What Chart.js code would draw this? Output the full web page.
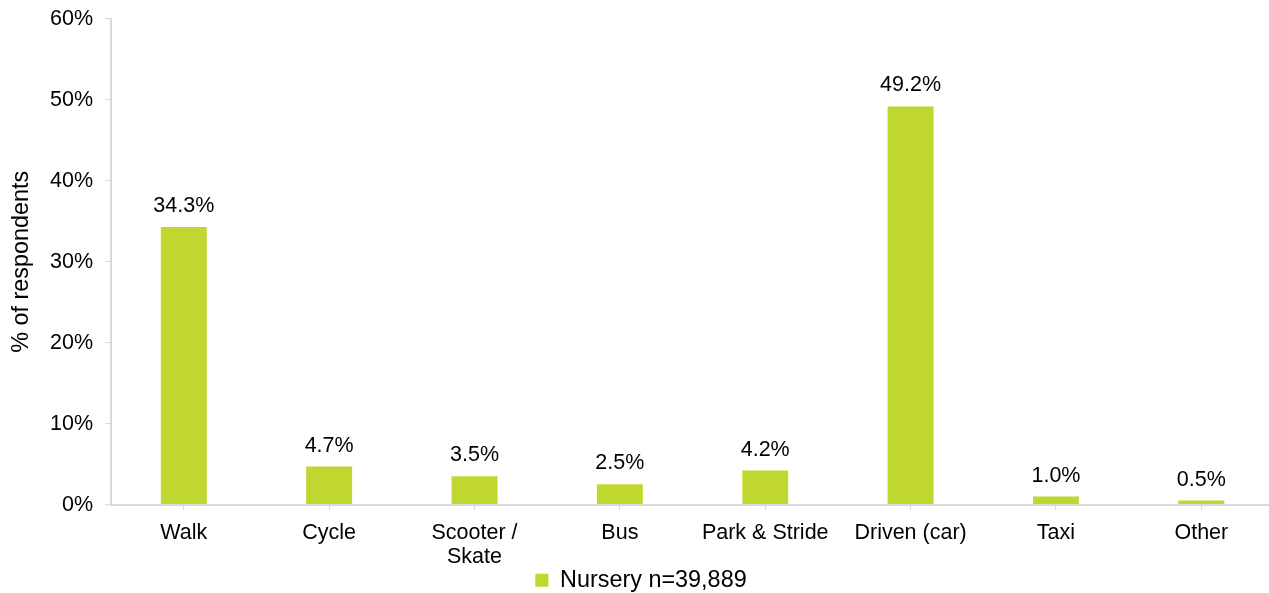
<!DOCTYPE html>
<html>
<head>
<meta charset="utf-8">
<script src="https://cdn.jsdelivr.net/npm/chart.js@4.4.0/dist/chart.umd.min.js"></script>
<style>
  html, body { margin: 0; padding: 0; background: #fff; overflow: hidden; }
  #wrap { width: 1274px; height: 593px; }
</style>
</head>
<body>
<div id="wrap"><canvas id="chart"></canvas></div>
<script>
const categories = ['Walk', 'Cycle', ['Scooter /', 'Skate'], 'Bus', 'Park & Stride', 'Driven (car)', 'Taxi', 'Other'];
const nurseryValues = [34.3, 4.7, 3.5, 2.5, 4.2, 49.2, 1.0, 0.5];
const seriesLabel = 'Nursery n=39,889';
const yTicks = [0, 10, 20, 30, 40, 50, 60];

const barColor = '#C0D72F';
const axisColor = '#D9D9D9';
const fontFamily = '"Liberation Sans", Arial, sans-serif';

// values written above each bar
const valueLabels = {
    id: 'valueLabels',
    afterDatasetsDraw(chart) {
        const ctx = chart.ctx;
        ctx.save();
        ctx.font = '21.5px ' + fontFamily;
        ctx.fillStyle = '#000';
        ctx.textAlign = 'center';
        ctx.textBaseline = 'alphabetic';
        chart.getDatasetMeta(0).data.forEach((bar, i) => {
            ctx.fillText(nurseryValues[i].toFixed(1) + '%', bar.x, bar.y - 15);
        });
        ctx.restore();
    }
};

new Chart(document.querySelector('#chart').getContext('2d'), {
    type: 'bar',
    data: {
        labels: categories,
        datasets: [{
            label: seriesLabel,
            data: nurseryValues,
            backgroundColor: barColor,
            borderWidth: 0,
            barPercentage: 1,
            categoryPercentage: 0.316
        }]
    },
    options: {
        responsive: true,
        maintainAspectRatio: false,
        animation: false,
        layout: { padding: { top: 1, left: 8, right: 0, bottom: -9 } },
        plugins: {
            tooltip: { enabled: false },
            legend: {
                position: 'bottom',
                labels: {
                    color: '#000',
                    font: { size: 23.4, family: fontFamily, lineHeight: 1.0 },
                    boxWidth: 13,
                    boxHeight: 13,
                    padding: 2
                }
            }
        },
        scales: {
            x: {
                afterFit: scale => { scale.height = 62; },
                grid: { display: true, drawOnChartArea: false, offset: false, color: axisColor, tickLength: 6 },
                border: { color: axisColor, width: 2 },
                ticks: {
                    color: '#000',
                    font: { size: 21.5, family: fontFamily, lineHeight: 1.116 },
                    maxRotation: 0,
                    autoSkip: false,
                    padding: 10
                }
            },
            y: {
                min: 0,
                max: 60,
                afterBuildTicks: axis => { axis.ticks = yTicks.map(v => ({ value: v })); },
                grid: { display: true, drawOnChartArea: false, color: axisColor, tickLength: 6 },
                border: { color: axisColor, width: 2 },
                title: {
                    display: true,
                    text: '% of respondents',
                    color: '#000',
                    font: { size: 23.4, family: fontFamily },
                    padding: { top: 0, bottom: 2 }
                },
                ticks: {
                    color: '#000',
                    font: { size: 21.5, family: fontFamily, lineHeight: 0.65 },
                    padding: 12,
                    callback: v => v + '%'
                }
            }
        }
    },
    plugins: [valueLabels]
});
</script>
</body>
</html>
